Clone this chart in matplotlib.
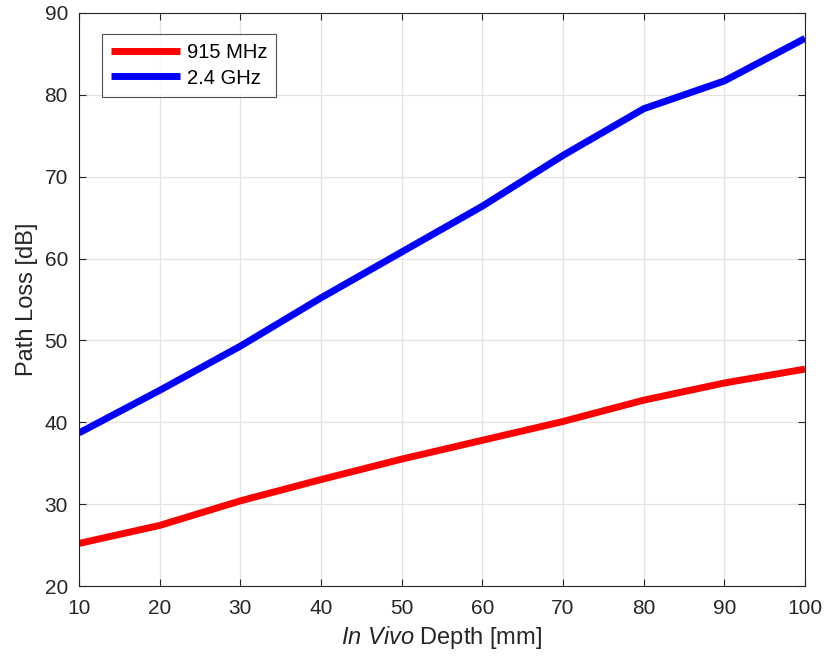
import numpy as np
import matplotlib
matplotlib.use("Agg")
import matplotlib.pyplot as plt

plt.rcParams['font.family'] = ['Liberation Sans', 'DejaVu Sans']
plt.rcParams['mathtext.fontset'] = 'custom'
plt.rcParams['mathtext.rm'] = 'Liberation Sans'
plt.rcParams['mathtext.it'] = 'Liberation Sans:italic'

# Path loss vs in vivo depth
depth_mm = [10, 20, 30, 40, 50, 60, 70, 80, 90, 100]
loss_915mhz = [25.2, 27.4, 30.4, 33.0, 35.5, 37.8, 40.1, 42.7, 44.8, 46.5]
loss_24ghz = [38.7, 43.9, 49.3, 55.2, 60.8, 66.4, 72.6, 78.3, 81.7, 86.9]

xticks = [10, 20, 30, 40, 50, 60, 70, 80, 90, 100]
yticks = [20, 30, 40, 50, 60, 70, 80, 90]

axis_col = '#262626'

fig = plt.figure(figsize=(8.24, 6.62), dpi=100)
ax = fig.add_axes([79 / 824, 1 - 586 / 662, (805 - 79) / 824, (586 - 13) / 662])

ax.plot(depth_mm, loss_915mhz, color='#ff0000', lw=5, label='915 MHz', solid_capstyle='butt')
ax.plot(depth_mm, loss_24ghz, color='#0000ff', lw=5, label='2.4 GHz', solid_capstyle='butt')

ax.set_xlim(10, 100)
ax.set_ylim(20, 90)
ax.set_xticks(xticks)
ax.set_yticks(yticks)
ax.grid(True, color='#e3e3e3', lw=0.9)
ax.set_axisbelow(True)

ax.tick_params(direction='in', top=True, right=True, length=5, width=0.8,
               colors=axis_col, labelsize=15)
ax.tick_params(axis='x', pad=9)
ax.tick_params(axis='y', pad=8)
for sp in ax.spines.values():
    sp.set_color(axis_col)
    sp.set_linewidth(0.8)

ax.set_xlabel(r'$\mathit{In\ Vivo}$ Depth [mm]', fontsize=17, color=axis_col, labelpad=5)
ax.set_ylabel('Path Loss [dB]', fontsize=17, color=axis_col, labelpad=5)

leg = ax.legend(loc='upper left', bbox_to_anchor=(23 / 726, 1 - 21 / 573),
                fontsize=14.5, frameon=True, fancybox=False, edgecolor=axis_col,
                handlelength=3.4, handletextpad=0.35, borderpad=0.45, labelspacing=0.32,
                borderaxespad=0)
leg.get_frame().set_linewidth(0.8)

fig.savefig('out.png', dpi=100)
